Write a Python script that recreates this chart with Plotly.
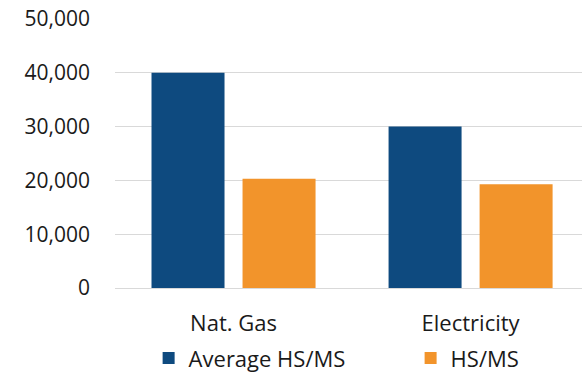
import plotly.graph_objects as go

categories = ["Nat. Gas", "Electricity"]
avg_hsms = [40000, 30000]
hsms = [20300, 19300]
series_names = ["Average HS/MS", "HS/MS"]
y_ticks = [0, 10000, 20000, 30000, 40000, 50000]

FONT = "Open Sans"
fig = go.Figure()
fig.add_trace(go.Bar(x=categories, y=avg_hsms, name=series_names[0], legend="legend",
                     marker=dict(color="#0E4A7F", line=dict(width=0))))
fig.add_trace(go.Bar(x=categories, y=hsms, name=series_names[1], legend="legend2",
                     marker=dict(color="#F2942B", line=dict(width=0))))

leg_common = dict(orientation="h", yref="container", yanchor="middle", y=0.05,
                  xanchor="left", font=dict(size=22), itemwidth=30,
                  bgcolor="rgba(0,0,0,0)")

fig.update_layout(
    width=582, height=377,
    margin=dict(l=115, r=0, t=19, b=89),
    paper_bgcolor="white", plot_bgcolor="white",
    barmode="group", bargap=0.232, bargroupgap=0.198,
    font=dict(family=FONT, size=21, color="#1a1a1a"),
    showlegend=True,
    legend=dict(x=0.072, **leg_common),
    legend2=dict(x=0.633, **leg_common),
    xaxis=dict(type="category", range=[-0.5, 1.47], showgrid=False, ticks="",
               showline=False, tickfont=dict(size=22), ticklabelstandoff=20),
    yaxis=dict(range=[0, 50000], tickvals=y_ticks, tickformat=",d",
               showgrid=True, gridcolor="#d9d9d9", gridwidth=1.2,
               zeroline=True, zerolinecolor="#d9d9d9", zerolinewidth=1.2,
               ticks="", ticklabelstandoff=24, tickfont=dict(size=21)),
)
fig.write_html("out.html")
